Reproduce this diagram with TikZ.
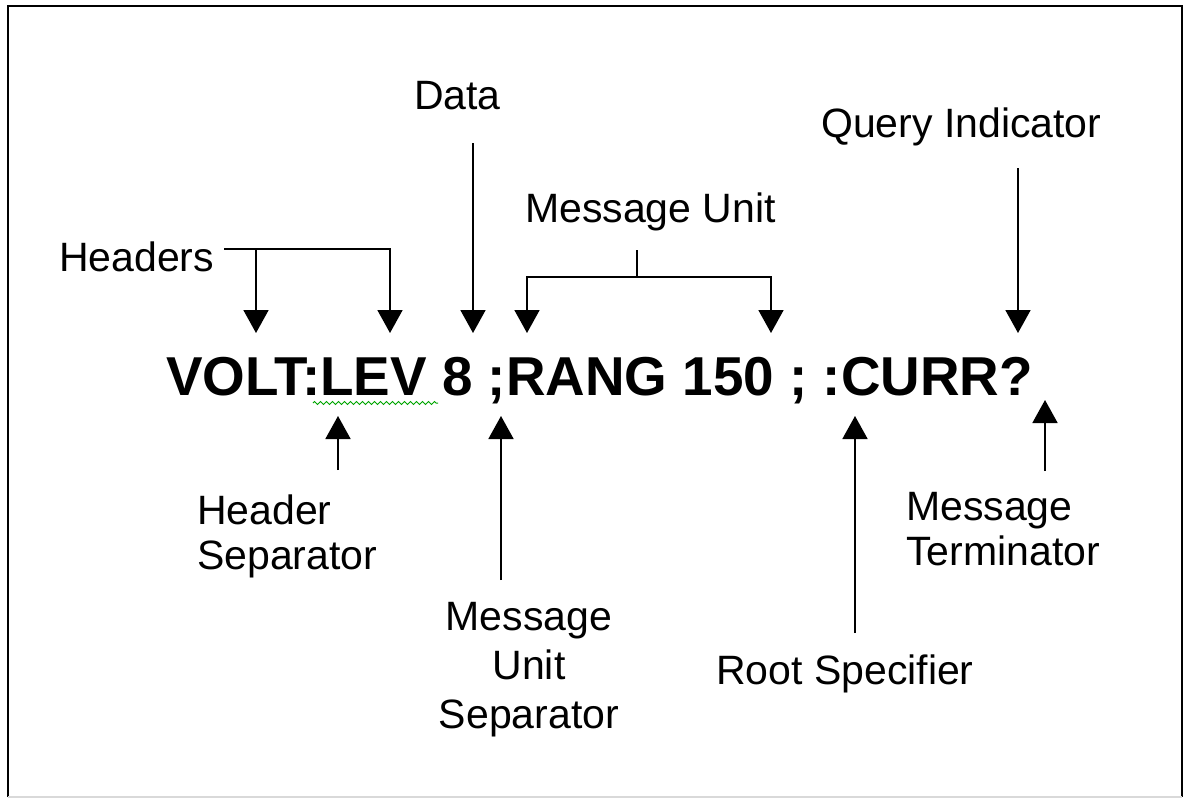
\documentclass[tikz,border=0pt]{standalone}
\usepackage{fontspec}
\setmainfont{Liberation Sans}
\usetikzlibrary{arrows.meta, decorations.pathmorphing}
\tikzset{
  lbl/.style = {inner sep=0pt, font=\fontsize{41}{45}\selectfont},
  cmdtext/.style = {inner sep=0pt, font=\fontsize{54.8}{60}\selectfont\bfseries},
  pointer/.style = {draw, line width=1.8pt, -{Triangle[width=25pt, length=23pt]}},
  wiggle/.style = {draw=green!65!black, line width=1pt, decorate, decoration={zigzag, segment length=6pt, amplitude=1.5pt}}
}
\begin{document}
\begin{tikzpicture}[x=1pt, y=-1pt]
\useasboundingbox (0,0) rectangle (1187,798);
% frame
\draw[line width=2pt] (8,797) -- (8,6) -- (1182,6) -- (1182,797);
\draw[black!15, line width=1.5pt] (8,797) -- (1182,797);
% the command line
\node[cmdtext, anchor=base west] (cmd) at (166,395) {VOLT:LEV 8 ;RANG 150 ; :CURR?};
\draw[wiggle] (313,403) -- (438,403);
% labels above
\node[lbl, anchor=base west] (hdr) at (59,271) {Headers};
\node[lbl, anchor=base west] (data) at (414,109) {Data};
\node[lbl, anchor=base west] (mu) at (525,222) {Message Unit};
\node[lbl, anchor=base west] (query) at (821,137) {Query Indicator};
% labels below
\node[lbl, anchor=north west, align=left] (hsep) at (197,495) {Header\\Separator};
\node[lbl, anchor=north, align=center, font=\fontsize{41}{49}\selectfont] (musep) at (529,602) {Message\\Unit\\Separator};
\node[lbl, anchor=north west] (root) at (716,655) {Root Specifier};
\node[lbl, anchor=north west, align=left] (term) at (906,492) {Message\\Terminator};
% arrow tips and stems
\coordinate (tVolt) at (256,333);
\coordinate (tLev) at (390,333);
\coordinate (tData) at (473,333);
\coordinate (tRang) at (527,333);
\coordinate (tNum) at (771,333);
\coordinate (tQuery) at (1018,333);
\coordinate (sData) at (473,143);
\coordinate (sQuery) at (1018,168);
\coordinate (muStem) at (637,250);
\coordinate (muJoin) at (637,277);
\coordinate (tHsep) at (338,416);
\coordinate (sHsep) at (338,470);
\coordinate (tMusep) at (501,416);
\coordinate (sMusep) at (501,580);
\coordinate (tRoot) at (855,416);
\coordinate (sRoot) at (855,633);
\coordinate (tTerm) at (1045,400);
\coordinate (sTerm) at (1045,471);
% connectors
\draw[pointer] ([xshift=10pt,yshift=7pt]hdr.east) -| (tVolt);
\draw[pointer] ([xshift=10pt,yshift=7pt]hdr.east) -| (tLev);
\draw[pointer] (sData) -- (tData);
\draw[pointer] (muStem) -- (muJoin) -| (tRang);
\draw[pointer] (muJoin) -| (tNum);
\draw[pointer] (sQuery) -- (tQuery);
\draw[pointer] (sHsep) -- (tHsep);
\draw[pointer] (sMusep) -- (tMusep);
\draw[pointer] (sRoot) -- (tRoot);
\draw[pointer] (sTerm) -- (tTerm);
\end{tikzpicture}
\end{document}
